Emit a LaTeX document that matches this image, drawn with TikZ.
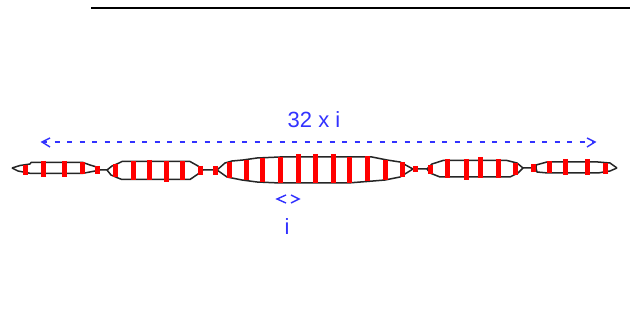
\documentclass[tikz,border=0pt]{standalone}
\usepackage{fontspec}
\setmainfont{Liberation Sans}
\definecolor{dimblue}{RGB}{50,50,255}
\tikzset{
  outline/.style={draw=black!85,line width=1.5pt,line join=round},
  bar/.style={draw=red,line width=5pt},
  dimline/.style={draw=dimblue,line width=1.5pt,dash pattern=on 5pt off 7.5pt},
  chevron/.style={draw=dimblue,line width=1.4pt},
  dimtext/.style={text=dimblue,font=\fontsize{22}{24}\selectfont,inner sep=0pt}
}
\begin{document}
\begin{tikzpicture}[x=1pt,y=-1pt]
\useasboundingbox (0,0) rectangle (630,331);
\fill[white] (0,0) rectangle (630,331);
\coordinate (ruleL) at (91,8); \coordinate (ruleR) at (630,8);
\draw[line width=2pt] (ruleL) -- (ruleR);
% outlines
\draw[outline] (12,168) -- (20,165.5) -- (30,164) -- (31,162.5) -- (83,162.5) -- (90,165) -- (95,166.5) -- (100,170) -- (107,170)
  -- (112,166) -- (118,163.5) -- (122,161.5) -- (190,161.5) -- (198,166) -- (203,170) -- (217,170)
  -- (225,163) -- (232,161) -- (243,160) -- (257,158) -- (280,157) -- (372,157) -- (387,160) -- (400,162) -- (413,169) -- (427,169)
  -- (432,164) -- (443,160.5) -- (507,160.5) -- (517,163) -- (523,168) -- (536,168)
  -- (536,165) -- (547,162) -- (598,162) -- (610,163) -- (617,168);
\draw[outline] (12,168) -- (18,171) -- (30,173.3) -- (83,173.3) -- (95,171) -- (100,170);
\draw[outline] (107,170) -- (111,175) -- (118,178) -- (122,179.5) -- (190,179.5) -- (198,174) -- (203,170);
\draw[outline] (217,170) -- (227,177) -- (242,180) -- (257,182) -- (280,183) -- (348,183) -- (373,181) -- (385,180) -- (400,177) -- (413,169);
\draw[outline] (427,169) -- (430,173) -- (440,177) -- (510,177) -- (518,173) -- (523,168);
\draw[outline] (536,168) -- (537,172) -- (548,173) -- (598,173) -- (610,171) -- (617,168);
% bars
\foreach \x/\a/\b in {25/165/175,43/161/177,64/161/177,82/162/174,97/166/174,
  115/164.5/177,133/161/180,149/160/180,166/161/182,182/161/180,200/166/175,
  215/166/175,229/162/178,246/160/180,262/158/182,280/157/183,298/154/183,315/154/183,333/154/183,349/157/183,367/156/181,385/160/180,402/162/177,415/166/172,
  430/165/174,447/159/178,466/159/180,480/157/178,498/159/178,515/163/175,
  533/164/172,549/161/173,565/159/175,587/159/175,605/163/174}
  \draw[bar] (\x,\a) -- (\x,\b);
% long dimension
\coordinate (longL) at (42,142); \coordinate (longR) at (595,142);
\draw[dimline] (longL) -- (longR);
\draw[chevron] (50,138) -- (longL) -- (50,147);
\draw[chevron] (587,138) -- (longR) -- (587,147);
\node[dimtext] (longlabel) at (314,120) {32 x i};
% short dimension
\coordinate (shortL) at (277,199); \coordinate (shortR) at (299,199);
\draw[chevron] (286,195) -- (shortL) -- (286,203);
\draw[chevron] (291,195) -- (shortR) -- (291,203);
\node[dimtext] (shortlabel) at (287,227) {i};
\end{tikzpicture}
\end{document}
